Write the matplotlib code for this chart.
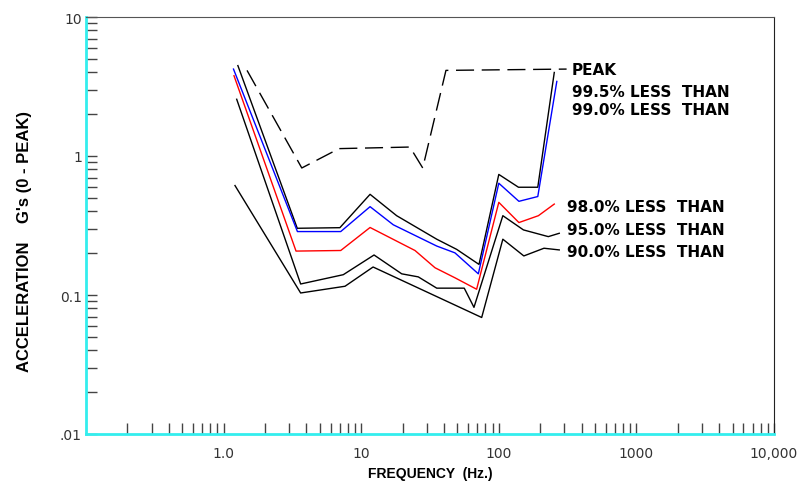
import matplotlib
matplotlib.use("Agg")
import matplotlib.pyplot as plt
from matplotlib.ticker import FixedLocator, NullFormatter

# frequency (Hz) / acceleration (G's 0-peak)
peak_f = [1.48, 3.70, 6.9, 22.6, 28.0, 41.3, 311]
peak_g = [4.13, 0.82, 1.13, 1.16, 0.82, 4.13, 4.22]

p995_f = [1.27, 3.43, 7.0, 11.6, 18.1, 35.4, 49.4, 71.8, 100, 139, 192, 253]
p995_g = [4.47, 0.302, 0.305, 0.53, 0.372, 0.252, 0.213, 0.166, 0.737, 0.596, 0.596, 3.99]

p990_f = [1.18, 3.44, 7.1, 11.6, 17.1, 35.4, 48.0, 71.0, 100, 140, 192, 264]
p990_g = [4.22, 0.286, 0.286, 0.432, 0.320, 0.225, 0.201, 0.142, 0.637, 0.472, 0.511, 3.44]

p980_f = [1.19, 3.36, 7.1, 11.6, 24.6, 34.4, 48.0, 69.0, 100, 140, 194, 253]
p980_g = [3.78, 0.207, 0.209, 0.306, 0.209, 0.157, 0.133, 0.110, 0.464, 0.332, 0.372, 0.451]

p950_f = [1.245, 3.63, 7.41, 12.4, 19.7, 26.0, 35.4, 56.1, 66.0, 107, 151, 229, 275]
p950_g = [2.56, 0.120, 0.140, 0.194, 0.142, 0.135, 0.112, 0.112, 0.0815, 0.372, 0.294, 0.263, 0.278]

p900_f = [1.21, 3.63, 7.63, 12.2, 75.1, 107, 152, 213, 275]
p900_g = [0.613, 0.1034, 0.1156, 0.159, 0.0689, 0.252, 0.191, 0.217, 0.211]

x_ticks = [1, 10, 100, 1000, 10000]
x_labels = ["1.0", "10", "100", "1000", "10,000"]
y_ticks = [0.01, 0.1, 1, 10]
y_labels = [".01", "0.1", "1", "10"]

fig = plt.figure(figsize=(8.02, 4.85), dpi=100)
ax = fig.add_axes([86 / 802, 1 - 435 / 485, 688 / 802, 417 / 485])

ax.plot(peak_f, peak_g, color="black", lw=1.0, dashes=(13, 5.5))
ax.plot(p995_f, p995_g, color="black", lw=1.0)
ax.plot(p990_f, p990_g, color="#0000ff", lw=1.0)
ax.plot(p980_f, p980_g, color="#ff0000", lw=1.0)
ax.plot(p950_f, p950_g, color="black", lw=1.0)
ax.plot(p900_f, p900_g, color="black", lw=1.0)

ax.set_xscale("log")
ax.set_yscale("log")
ax.set_xlim(0.1, 10000)
ax.set_ylim(0.01, 10)

ax.xaxis.set_major_locator(FixedLocator(x_ticks))
ax.set_xticklabels(x_labels)
ax.yaxis.set_major_locator(FixedLocator(y_ticks))
ax.set_yticklabels(y_labels)
ax.xaxis.set_minor_formatter(NullFormatter())
ax.yaxis.set_minor_formatter(NullFormatter())

ax.tick_params(axis="both", which="both", direction="in", length=8,
               width=1, color="#444444", labelsize=10, labelcolor="#333333")
ax.tick_params(axis="x", which="major", pad=9)
ax.tick_params(axis="y", which="major", pad=3)

ax.spines["left"].set_color("#33eeee")
ax.spines["bottom"].set_color("#33eeee")
ax.spines["left"].set_linewidth(2)
ax.spines["bottom"].set_linewidth(2)
ax.spines["top"].set_color("#555555")
ax.spines["right"].set_color("#222222")

# curve labels
lab = dict(transform=ax.transAxes, fontsize=11, fontweight="bold",
           family="DejaVu Sans", va="center", ha="left")
ax.text(0.706, 0.875, "PEAK", **lab)
ax.text(0.706, 0.8225, "99.5% LESS  THAN", **lab)
ax.text(0.706, 0.777, "99.0% LESS  THAN", **lab)
ax.text(0.699, 0.5444, "98.0% LESS  THAN", **lab)
ax.text(0.699, 0.4916, "95.0% LESS  THAN", **lab)
ax.text(0.699, 0.4365, "90.0% LESS  THAN", **lab)

fig.text(430 / 802, 1 - 474 / 485, "FREQUENCY  (Hz.)", fontsize=10,
         fontweight="bold", family="Liberation Sans", ha="center", va="center")
fig.text(25 / 802, 1 - 241 / 485, "ACCELERATION    G's (0 - PEAK)", fontsize=12,
         fontweight="bold", family="Liberation Sans", rotation=90,
         ha="center", va="center")

fig.savefig("out.png", dpi=100)
